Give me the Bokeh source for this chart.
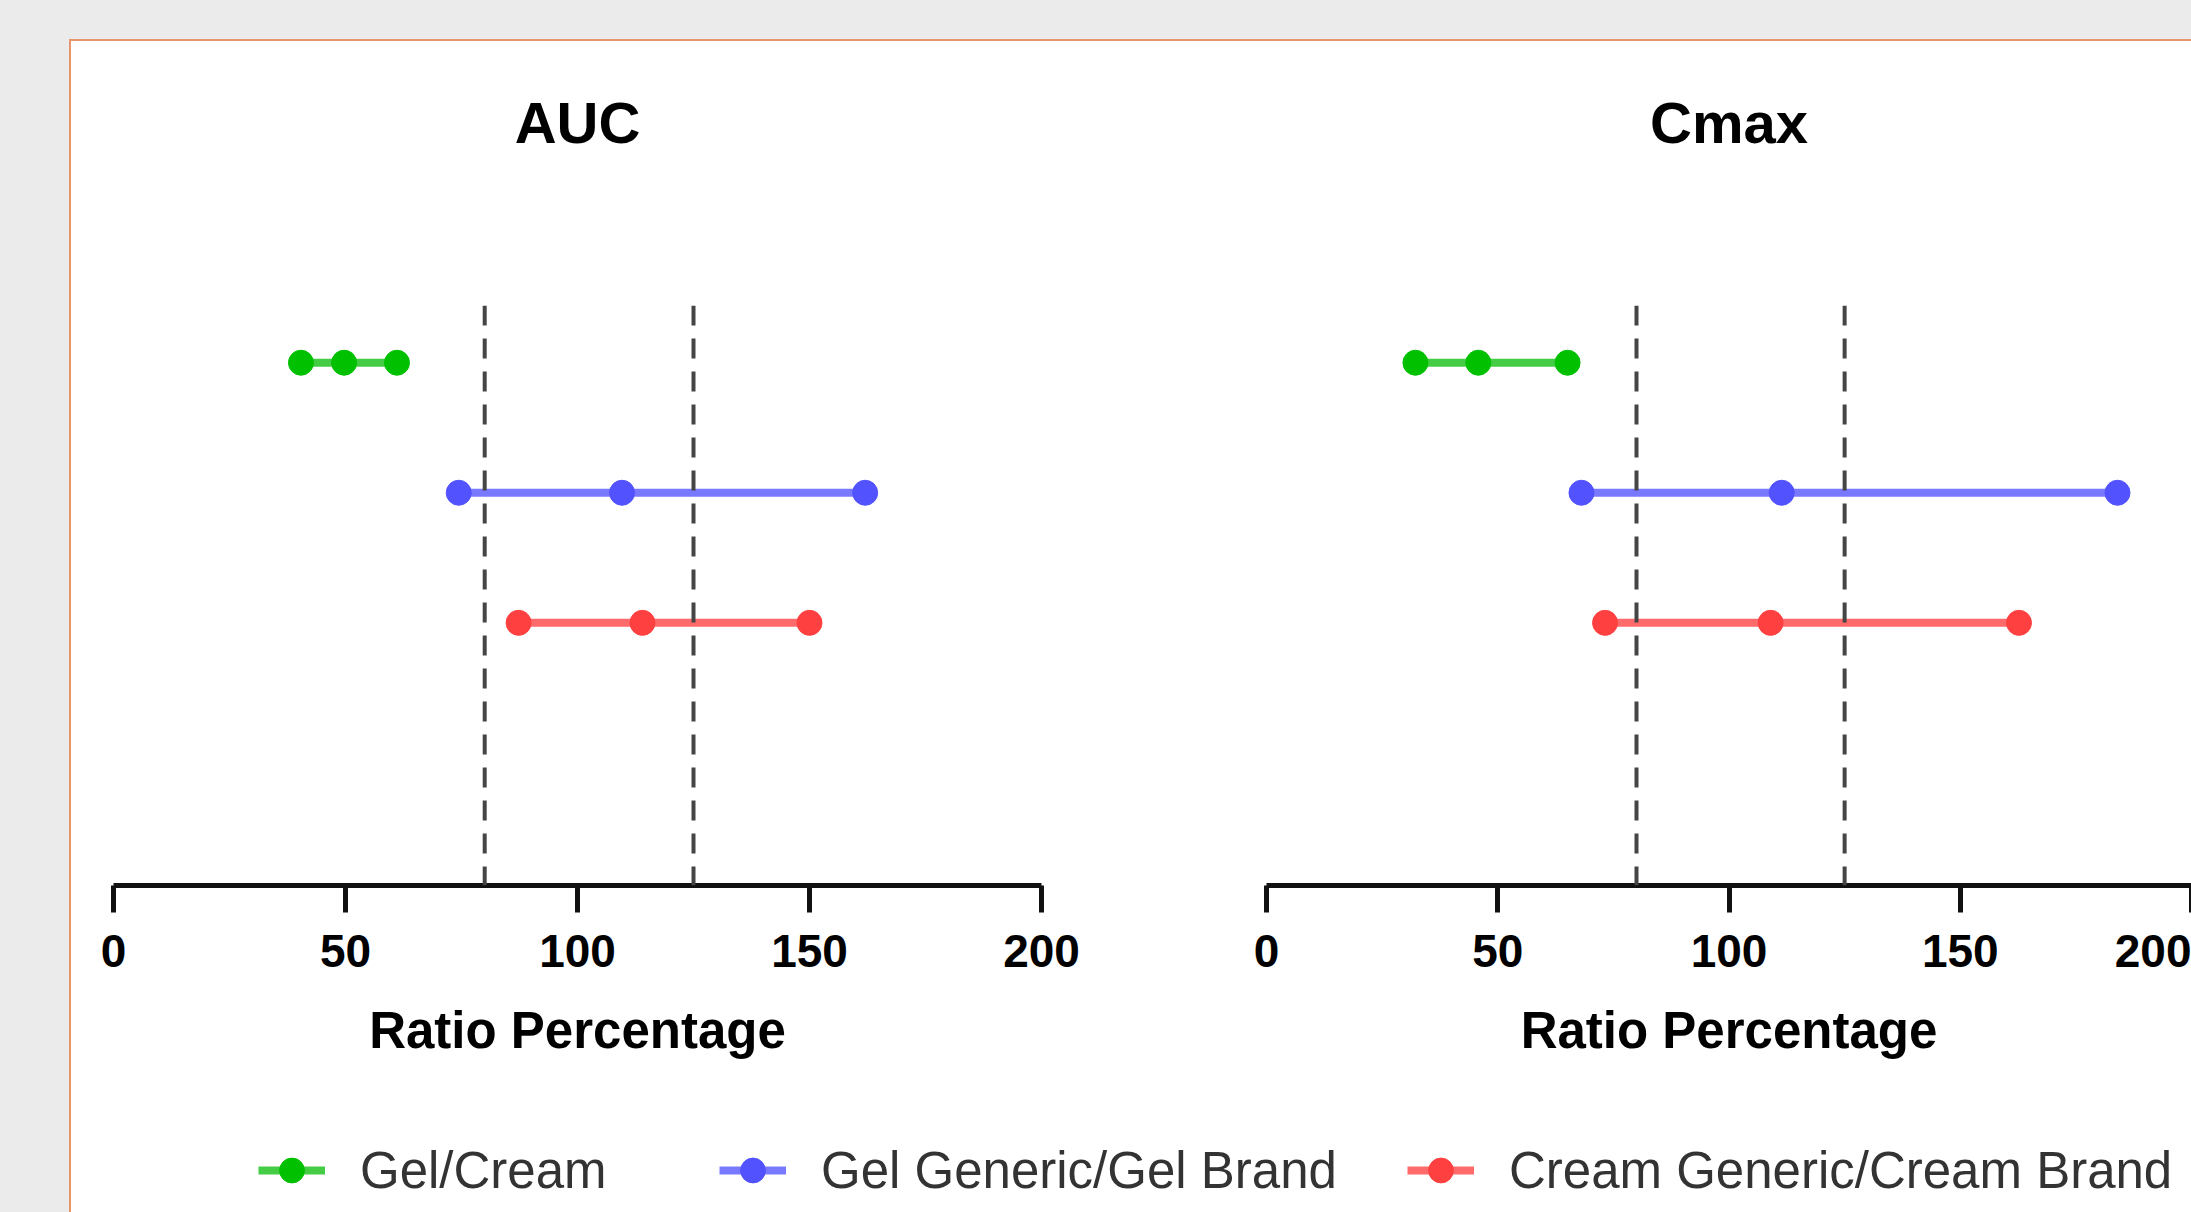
from bokeh.plotting import figure
from bokeh.models import Range1d, Span, FixedTicker, Legend, LegendItem, Title
from bokeh.layouts import row, column
from bokeh.embed import file_html
from bokeh.resources import INLINE

# ---------------- data ----------------
series_names = ["Gel/Cream", "Gel Generic/Gel Brand", "Cream Generic/Cream Brand"]
series_rows = [3, 2, 1]
series_colors = ["#00c000", "#5252ff", "#ff4040"]
line_colors = ["#30c830", "#6a6aff", "#ff5a5a"]

panel_titles = ["AUC", "Cmax"]

# lower CI, point estimate, upper CI (ratio percentage)
auc_gel_cream = [40.4, 49.7, 61.1]
auc_gel_generic_brand = [74.4, 109.6, 162.0]
auc_cream_generic_brand = [87.3, 114.0, 150.0]

cmax_gel_cream = [32.2, 45.8, 65.1]
cmax_gel_generic_brand = [68.1, 111.4, 184.0]
cmax_cream_generic_brand = [73.2, 109.0, 162.7]

ref_limits = [80, 125]
x_ticks = [0, 50, 100, 150, 200]
x_label = "Ratio Percentage"

FONT = "Liberation Sans"


def make_panel(title, data, width, mb_left, mb_right):
    p = figure(width=width, height=1044, x_range=Range1d(0, 200),
               y_range=Range1d(-1.02, 3.44), title=title,
               output_backend="svg", toolbar_location=None,
               min_border_left=mb_left, min_border_right=mb_right,
               min_border_top=264, min_border_bottom=200)
    p.background_fill_color = "white"
    p.border_fill_color = "white"
    p.outline_line_color = None
    p.grid.visible = False
    p.yaxis.visible = False

    # an invisible spacer between the frame and the title
    p.add_layout(Title(text=" ", text_font_size="1px", standoff=143), "above")

    p.title.align = "center"
    p.title.text_font = FONT
    p.title.text_font_size = "58px"
    p.title.text_font_style = "bold"
    p.title.text_color = "#000000"
    p.title.standoff = 10

    for lim in ref_limits:
        p.add_layout(Span(location=lim, dimension="height", line_color="#454545",
                          line_width=4, line_dash="20 13"))

    for vals, yrow, col, lcol in zip(data, series_rows, series_colors, line_colors):
        ys = [yrow] * len(vals)
        p.line(vals, ys, line_color=lcol, line_width=8, line_alpha=0.9)
        p.scatter(vals, ys, marker="circle", size=25, fill_color=col,
                  line_color=col, line_width=1)

    ax = p.xaxis[0]
    ax.ticker = FixedTicker(ticks=x_ticks)
    ax.minor_tick_line_color = None
    ax.major_tick_in = 0
    ax.major_tick_out = 27
    ax.major_tick_line_width = 5
    ax.major_tick_line_color = "#111111"
    ax.axis_line_width = 5
    ax.axis_line_color = "#111111"
    ax.major_label_text_font = FONT
    ax.major_label_text_font_size = "46px"
    ax.major_label_text_font_style = "bold"
    ax.major_label_text_color = "#000000"
    ax.major_label_standoff = 22
    ax.axis_label = x_label
    ax.axis_label_text_font = FONT
    ax.axis_label_text_font_size = "51px"
    ax.axis_label_text_font_style = "bold"
    ax.axis_label_text_color = "#000000"
    ax.axis_label_standoff = 32
    return p


fig1 = make_panel(panel_titles[0],
                  [auc_gel_cream, auc_gel_generic_brand, auc_cream_generic_brand],
                  1079, 42, 109)
fig2 = make_panel(panel_titles[1],
                  [cmax_gel_cream, cmax_gel_generic_brand, cmax_cream_generic_brand],
                  1041, 116, 0)

# legend strip (its renderers hold the AUC series but sit outside the view)
legfig = figure(width=2120, height=127, x_range=Range1d(0, 200), y_range=Range1d(10, 11),
                output_backend="svg", toolbar_location=None,
                min_border_left=0, min_border_right=0, min_border_top=0, min_border_bottom=0)
legfig.axis.visible = False
legfig.grid.visible = False
legfig.outline_line_color = None
legfig.border_fill_color = "white"

auc_series = [auc_gel_cream, auc_gel_generic_brand, auc_cream_generic_brand]
legend_x = [187, 648, 1336]
for name, vals, yrow, col, lcol, lx in zip(series_names, auc_series, series_rows,
                                           series_colors, line_colors, legend_x):
    ys = [yrow] * len(vals)
    r_line = legfig.line(vals, ys, line_color=lcol, line_width=8, line_alpha=0.9)
    r_pt = legfig.scatter(vals, ys, marker="circle", size=25,
                          fill_color=col, line_color=col)
    leg = Legend(items=[LegendItem(label=name, renderers=[r_line, r_pt])],
                 location=(lx, 11), glyph_width=67, glyph_height=62,
                 label_standoff=35, padding=0, margin=0, spacing=0,
                 border_line_color=None, background_fill_alpha=0,
                 label_text_font=FONT, label_text_font_size="51px",
                 label_text_color="#333333")
    legfig.add_layout(leg, "center")

inner = column(row(fig1, fig2), legfig, margin=(39, 0, 0, 69),
               styles={"border-top": "2px solid #e9956b",
                       "border-left": "2px solid #e9956b",
                       "background-color": "white"})
page = column(inner, width=2191, height=1212,
              styles={"background-color": "#ebebeb"})

open("out.html", "w").write(file_html(page, INLINE))
